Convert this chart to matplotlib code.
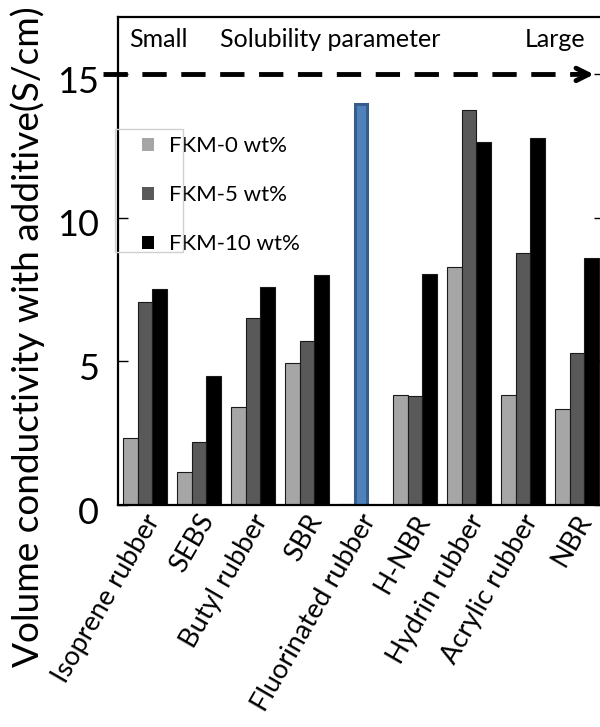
import matplotlib
matplotlib.use('Agg')
import matplotlib.pyplot as plt
import matplotlib.transforms as mtransforms
from matplotlib.patches import Patch, Rectangle
import numpy as np

plt.rcParams['font.family'] = ['Lato', 'DejaVu Sans']

# ------ Data ------
rubbers = ['Isoprene rubber', 'SEBS', 'Butyl rubber', 'SBR', 'Fluorinated rubber',
           'H-NBR', 'Hydrin rubber', 'Acrylic rubber', 'NBR']
fkm0 = [2.35, 1.15, 3.4, 4.93, 0.05, 3.82, 8.3, 3.82, 3.33]
fkm5 = [7.08, 2.19, 6.53, 5.73, np.nan, 3.78, 13.75, 8.78, 5.28]
fkm10 = [7.53, 4.48, 7.6, 8.02, np.nan, 8.06, 12.64, 12.78, 8.6]
# fluorinated rubber itself (no additive series)
fluoro_value = [13.96]
fluoro_idx = 4

series_labels = ['FKM-0 wt%', 'FKM-5 wt%', 'FKM-10 wt%']
series_colors = ['#a6a6a6', '#595959', '#000000']

fig = plt.figure(figsize=(6, 7.27), dpi=100)
W, H = 600, 727
ax = fig.add_axes([118 / W, (H - 505) / H, (604 - 118) / W, (505 - 17) / H])

x = np.arange(len(rubbers))
bw = 0.27
for k, (vals, lab, col) in enumerate(zip([fkm0, fkm5, fkm10], series_labels, series_colors)):
    ax.bar(x + (k - 1) * bw, vals, width=bw, color=col, edgecolor='#1a1a1a', linewidth=0.8, label=lab)

# blue bar for fluorinated rubber
ax.bar([x[fluoro_idx]], fluoro_value, width=0.22, color='#4f81bd', edgecolor='#385d8a', linewidth=2.2)

ax.set_xlim(-0.5, 8.5)
ax.set_ylim(0, 17)
ax.set_yticks([0, 5, 10, 15])
ax.tick_params(axis='y', direction='in', length=7, width=1, labelsize=26, pad=14, right=True)
ax.tick_params(axis='x', length=0, pad=8)
ax.set_xticks(x)
ax.set_xticklabels(rubbers, rotation=60, ha='right', va='center', rotation_mode='anchor', fontsize=19.5)
offset = mtransforms.ScaledTranslation(9 / 100, 0, fig.dpi_scale_trans)
for lbl in ax.get_xticklabels():
    lbl.set_transform(lbl.get_transform() + offset)
yoff = mtransforms.ScaledTranslation(0, -5 / 100, fig.dpi_scale_trans)
for lbl in ax.get_yticklabels():
    lbl.set_transform(lbl.get_transform() + yoff)
for s in ax.spines.values():
    s.set_linewidth(1.6)

# y label, sized so it runs from y=667 up to y=5 like the original
ylab = fig.text(28 / W, (H - 667) / H, 'Volume conductivity with additive(S/cm)', fontsize=28,
                rotation=90, ha='center', va='bottom')
fig.canvas.draw()
ext = ylab.get_window_extent()
ylab.set_fontsize(28 * 662 / ext.height)

# solubility parameter arrow
trans = mtransforms.blended_transform_factory(ax.transAxes, ax.transData)
ax.plot([-0.03, 0.935], [15, 15], transform=trans, color='black', lw=3.5, ls=(0, (5, 3)), clip_on=False)
ax.annotate('', xy=(0.985, 15), xytext=(0.93, 15), xycoords=trans, textcoords=trans,
            arrowprops=dict(arrowstyle='->,head_length=0.9,head_width=0.45', lw=3.5, color='black'))
ax.text(0.084, 16.2, 'Small', transform=trans, fontsize=18, ha='center', va='center')
ax.text(0.436, 16.2, 'Solubility parameter', transform=trans, fontsize=18, ha='center', va='center')
ax.text(0.899, 16.2, 'Large', transform=trans, fontsize=18, ha='center', va='center')

# legend
handles = [Patch(facecolor=c, edgecolor='none') for c in series_colors]
leg = ax.legend(handles, series_labels, loc='upper left', bbox_to_anchor=(138 / W, (H - 132) / H),
                bbox_transform=fig.transFigure, frameon=False, fontsize=16,
                handlelength=0.5, handleheight=0.5, handletextpad=0.7, labelspacing=1.3,
                borderaxespad=0, borderpad=0.2)
fig.add_artist(Rectangle((115 / W, (H - 252) / H), 68 / W, 123 / H, transform=fig.transFigure,
                         fill=False, edgecolor='#d0d0d0', linewidth=1))

plt.savefig('out.png', dpi=100)
